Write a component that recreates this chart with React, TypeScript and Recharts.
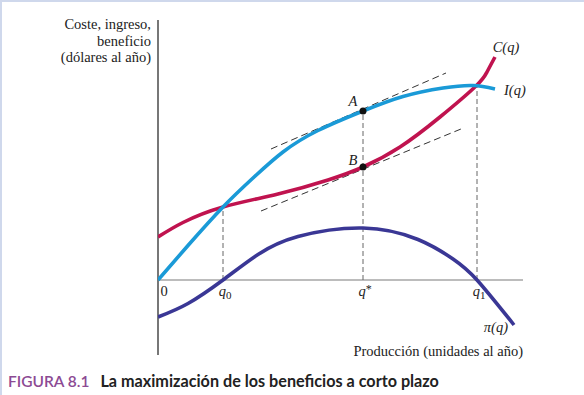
import React from 'react';
import { LineChart, Line, XAxis, YAxis, ReferenceLine, ReferenceDot } from 'recharts';

// Output (q) and value samples
const ingresoQ = [0, 3, 6.5, 9.5, 12.5, 16, 20.5, 24.5, 28.5, 31.5, 33.7];
const ingresoV = [0, 3.45, 7.3, 10.2, 12.8, 14.95, 16.9, 18.35, 19.2, 19.45, 19.1];

const costeQ = [0, 2.5, 6.5, 12, 17, 20.5, 24.2, 28.2, 31.8, 32.9, 33.7];
const costeV = [4.3, 5.75, 7.3, 8.6, 10.0, 11.3, 13.3, 16.3, 19.4, 20.8, 22.3];

const beneficioQ = [0, 3, 6.5, 10, 14, 20.5, 26, 29.5, 31.9, 35.6];
const beneficioV = [-3.7, -2.35, 0, 2.55, 4.35, 5.2, 4.05, 2.1, 0, -4.5];

// Key outputs
const q0 = 6.5;
const qStar = 20.5;
const q1 = 31.9;
const valueA = 16.9;
const valueB = 11.3;
const valueQ0 = 7.3;
const valueQ1 = 19.4;

// Tangent segments (endpoints)
const tangentIngreso = [{ x: 11.3, y: 13.1 }, { x: 28.8, y: 20.7 }];
const tangentCoste = [{ x: 10.3, y: 6.9 }, { x: 30.3, y: 15.1 }];

const xTicks = [0, q0, qStar, q1];
const xTickLabels = [
  { main: '0', sub: '', sup: '' },
  { main: 'q', sub: '0', sup: '' },
  { main: 'q', sub: '', sup: '*' },
  { main: 'q', sub: '1', sup: '' },
];

const build = (qs: number[], vs: number[]) => qs.map((q, i) => ({ q, v: vs[i] }));
const ingresoData = build(ingresoQ, ingresoV);
const costeData = build(costeQ, costeV);
const beneficioData = build(beneficioQ, beneficioV);

const SERIF = '"Liberation Serif", "DejaVu Serif", serif';
const SANS = 'Lato, "Open Sans", sans-serif';
const FS = 14.5;

const textShape = (content: React.ReactNode, dx: number, dy: number, anchor: string, italic = true) =>
  (props: any) => (
    <text
      x={props.cx + dx}
      y={props.cy + dy}
      textAnchor={anchor}
      fontFamily={SERIF}
      fontStyle={italic ? 'italic' : 'normal'}
      fontSize={FS}
      fill="#222"
    >
      {content}
    </text>
  );

export default function App() {
  return (
    <div style={{ position: 'absolute', left: 0, top: 0, width: 584, height: 395, background: '#fff', overflow: 'hidden' }}>
      <LineChart
        width={584}
        height={395}
        margin={{ top: 20, right: 61, bottom: 40, left: 158 }}
      >
        <XAxis type="number" dataKey="q" domain={[0, 36.5]} hide allowDataOverflow />
        <YAxis type="number" dataKey="v" domain={[-7.5, 26]} hide allowDataOverflow />

        <ReferenceLine x={0} stroke="#555" strokeWidth={1.6} />
        <ReferenceLine y={0} stroke="#7a7a7a" strokeWidth={1.2} />

        <ReferenceLine segment={[{ x: q0, y: 0 }, { x: q0, y: valueQ0 }]} stroke="#666" strokeWidth={1} strokeDasharray="5 3" />
        <ReferenceLine segment={[{ x: qStar, y: 0 }, { x: qStar, y: valueA }]} stroke="#666" strokeWidth={1} strokeDasharray="5 3" />
        <ReferenceLine segment={[{ x: q1, y: 0 }, { x: q1, y: valueQ1 }]} stroke="#666" strokeWidth={1} strokeDasharray="5 3" />

        <ReferenceLine segment={tangentIngreso} stroke="#333" strokeWidth={1} strokeDasharray="7 4" />
        <ReferenceLine segment={tangentCoste} stroke="#333" strokeWidth={1} strokeDasharray="7 4" />

        <Line data={beneficioData} dataKey="v" type="natural" stroke="#3a3795" strokeWidth={3.6} dot={false} activeDot={false} isAnimationActive={false} />
        <Line data={costeData} dataKey="v" type="natural" stroke="#c0134f" strokeWidth={3.6} dot={false} activeDot={false} isAnimationActive={false} />
        <Line data={ingresoData} dataKey="v" type="natural" stroke="#1a9ad7" strokeWidth={3.6} dot={false} activeDot={false} isAnimationActive={false} />

        <ReferenceDot x={qStar} y={valueA} r={3.5} fill="#111" stroke="none" />
        <ReferenceDot x={qStar} y={valueB} r={3.5} fill="#111" stroke="none" />

        <ReferenceDot x={qStar} y={valueA} shape={textShape('A', -10, -5, 'middle')} />
        <ReferenceDot x={qStar} y={valueB} shape={textShape('B', -10, -2, 'middle')} />

        <ReferenceDot x={costeQ[costeQ.length - 1]} y={costeV[costeV.length - 1]} shape={textShape('C(q)', 11, -5, 'middle')} />
        <ReferenceDot x={ingresoQ[ingresoQ.length - 1]} y={ingresoV[ingresoV.length - 1]} shape={textShape('I(q)', 9, 6, 'start')} />
        <ReferenceDot x={beneficioQ[beneficioQ.length - 1]} y={beneficioV[beneficioV.length - 1]} shape={textShape('π(q)', -6, 7, 'end')} />

        {xTicks.map((t, i) => {
          const l = xTickLabels[i];
          const content = l.main === '0' ? '0' : (
            <>
              q
              {l.sub ? <tspan fontStyle="normal" fontSize={11} dy={3}>{l.sub}</tspan> : null}
              {l.sup ? <tspan fontStyle="normal" fontSize={12} dy={-3}>{l.sup}</tspan> : null}
            </>
          );
          return (
            <ReferenceDot
              key={i}
              x={t}
              y={0}
              shape={textShape(content, i === 0 ? 6 : 2, 16, 'middle', l.main !== '0')}
            />
          );
        })}
      </LineChart>

      <svg width={584} height={395} style={{ position: 'absolute', left: 0, top: 0, pointerEvents: 'none' }}>
        <g fontFamily={SERIF} fontSize={FS} fill="#222" textAnchor="end">
          <text x={151} y={29}>Coste, ingreso,</text>
          <text x={151} y={46}>beneficio</text>
          <text x={151} y={62}>(dólares al año)</text>
        </g>
        <text x={523} y={356} fontFamily={SERIF} fontSize={FS} fill="#222" textAnchor="end">
          Producción (unidades al año)
        </text>
        <text x={8} y={387} fontFamily={SANS}>
          <tspan fill="#8c4a93" fontWeight={600} fontSize={15.5}>FIGURA 8.1</tspan>
          <tspan fill="#222" fontWeight={700} fontSize={16.2} dx={11}>La maximización de los beneficios a corto plazo</tspan>
        </text>
        <rect x={0} y={0} width={584} height={2} fill="#cfd8ec" />
        <rect x={0} y={0} width={2} height={395} fill="#cfd8ec" />
      </svg>
    </div>
  );
}
